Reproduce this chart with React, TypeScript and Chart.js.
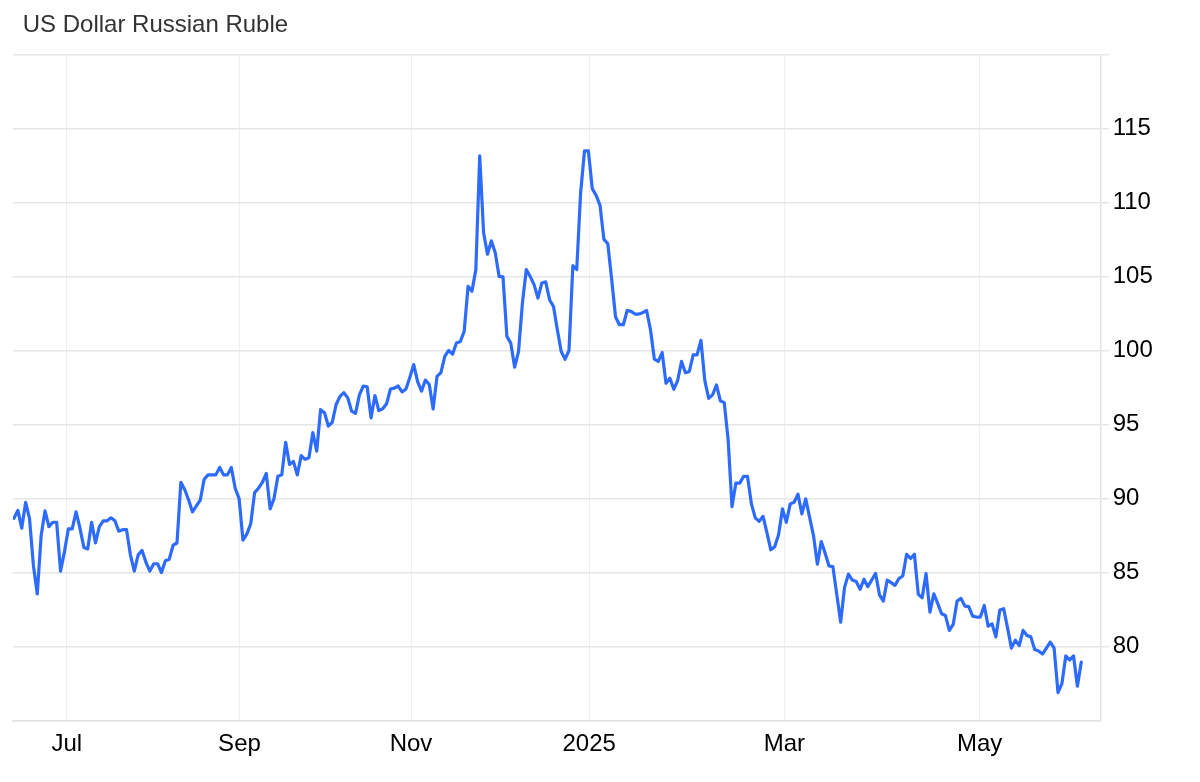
import React, { useEffect, useRef } from "react";
import { Chart, registerables } from "chart.js";

Chart.register(...registerables);

const TITLE = "US Dollar Russian Ruble";

// USD/RUB daily quotes, mid-Jun 2024 to end of May 2025 (one entry per trading point)
const rubValues: number[] = [
  88.67, 89.2, 88.0, 89.74, 88.67, 85.5, 83.56, 87.5, 89.17, 88.1,
  88.4, 88.4, 85.1, 86.4, 87.95, 87.95, 89.1, 88.0, 86.7, 86.6,
  88.4, 87.0, 88.1, 88.5, 88.5, 88.7, 88.5, 87.8, 87.9, 87.9,
  86.2, 85.1, 86.2, 86.5, 85.7, 85.1, 85.6, 85.6, 85.0, 85.8,
  85.9, 86.85, 87.0, 91.1, 90.6, 89.9, 89.1, 89.5, 89.9, 91.3,
  91.6, 91.6, 91.6, 92.1, 91.6, 91.6, 92.1, 90.7, 90.0, 87.2,
  87.6, 88.3, 90.4, 90.7, 91.1, 91.7, 89.3, 90.0, 91.5, 91.6,
  93.8, 92.3, 92.5, 91.6, 92.9, 92.65, 92.75, 94.46, 93.2, 96.0,
  95.8, 94.9, 95.15, 96.35, 96.9, 97.15, 96.8, 95.9, 95.75, 97.0,
  97.6, 97.55, 95.45, 96.96, 95.94, 96.06, 96.4, 97.4, 97.46, 97.6,
  97.2, 97.4, 98.2, 99.05, 97.9, 97.25, 98.0, 97.7, 96.05, 98.25,
  98.5, 99.6, 100.0, 99.75, 100.5, 100.6, 101.3, 104.33, 104.0, 105.46,
  113.14, 107.95, 106.5, 107.4, 106.6, 105.0, 104.97, 100.95, 100.5, 98.87,
  99.93, 103.2, 105.46, 105.0, 104.45, 103.54, 104.56, 104.63, 103.43, 102.98,
  101.4, 99.93, 99.41, 100.0, 105.73, 105.46, 110.65, 113.48, 113.48, 110.93,
  110.47, 109.8, 107.5, 107.22, 104.8, 102.26, 101.74, 101.74, 102.7, 102.64,
  102.46, 102.46, 102.55, 102.7, 101.4, 99.41, 99.26, 99.86, 97.79, 98.13,
  97.38, 97.97, 99.26, 98.5, 98.58, 99.7, 99.7, 100.68, 97.97, 96.77,
  97.0, 97.67, 96.6, 96.48, 94.0, 89.46, 91.04, 91.04, 91.5, 91.5,
  89.64, 88.7, 88.46, 88.8, 87.7, 86.54, 86.74, 87.56, 89.3, 88.4,
  89.64, 89.75, 90.3, 88.96, 89.98, 88.73, 87.5, 85.57, 87.1, 86.3,
  85.45, 85.4, 83.53, 81.65, 84.0, 84.9, 84.5, 84.4, 83.87, 84.55,
  84.05, 84.5, 84.95, 83.5, 83.08, 84.5, 84.32, 84.14, 84.6, 84.77,
  86.24, 85.95, 86.24, 83.53, 83.3, 84.93, 82.33, 83.57, 82.92, 82.22,
  82.1, 81.1, 81.5, 83.08, 83.26, 82.74, 82.7, 82.06, 82.0, 82.0,
  82.78, 81.38, 81.54, 80.66, 82.47, 82.56, 81.27, 79.9, 80.43, 80.07,
  81.1, 80.75, 80.66, 79.8, 79.7, 79.5, 79.9, 80.3, 79.9, 76.9,
  77.5, 79.37, 79.1, 79.37, 77.33, 78.96,
];

// month boundaries, expressed as positions along the series
const tickLabels: string[] = ["Jul", "Sep", "Nov", "2025", "Mar", "May"];
const tickPositions: number[] = [13.6, 58.1, 102.3, 148.2, 198.5, 248.8];

const yTicks: number[] = [75, 80, 85, 90, 95, 100, 105, 110, 115, 120];

const FONT = "'Liberation Sans', Arial, Helvetica, sans-serif";

export default function App() {
  const canvasRef = useRef<HTMLCanvasElement | null>(null);

  useEffect(() => {
    document.body.style.margin = "0";
    const canvas = canvasRef.current;
    if (!canvas) return;

    const titlePlugin = {
      id: "leftTitle",
      afterDraw(chart: any) {
        const ctx = chart.ctx;
        ctx.save();
        ctx.font = `24px ${FONT}`;
        ctx.fillStyle = "#333333";
        ctx.textBaseline = "alphabetic";
        ctx.textAlign = "left";
        ctx.fillText(TITLE, 22.7, 32.3);
        ctx.restore();
      },
    };

    const chart = new Chart(canvas, {
      type: "line",
      data: {
        labels: rubValues.map((_, i) => i),
        datasets: [
          {
            data: rubValues.map((v, i) => ({ x: i, y: v })),
            borderColor: "#2d6bff",
            borderWidth: 3.2,
            pointRadius: 0,
            pointHoverRadius: 0,
            tension: 0,
            fill: false,
            borderJoinStyle: "round",
            borderCapStyle: "round",
          },
        ],
      },
      options: {
        animation: false,
        responsive: true,
        maintainAspectRatio: false,
        layout: { padding: { top: 54.3, left: 12.7, right: 0, bottom: 0 } },
        plugins: {
          legend: { display: false },
          title: { display: false },
          tooltip: { enabled: false },
        },
        scales: {
          x: {
            type: "linear",
            min: -0.33,
            max: 280,
            afterBuildTicks: (axis: any) => {
              axis.ticks = tickPositions.map((v) => ({ value: v }));
            },
            afterFit: (scale: any) => {
              scale.height = 61.3;
            },
            ticks: {
              autoSkip: false,
              maxRotation: 0,
              minRotation: 0,
              padding: 9,
              color: "#000000",
              font: { family: FONT, size: 24 },
              callback: (value: any) => {
                const idx = tickPositions.indexOf(Number(value));
                return idx >= 0 ? tickLabels[idx] : "";
              },
            },
            grid: {
              color: "#eaeff5",
              lineWidth: 1,
              drawTicks: false,
            },
            border: { display: true, color: "#e3e3e3", width: 1.5 },
          },
          y: {
            type: "linear",
            position: "right",
            min: 75,
            max: 120,
            afterBuildTicks: (axis: any) => {
              axis.ticks = yTicks.map((v) => ({ value: v }));
            },
            afterFit: (scale: any) => {
              scale.width = 99.3;
            },
            ticks: {
              padding: 4,
              color: "#000000",
              font: { family: FONT, size: 24 },
              callback: (value: any) =>
                value === 75 || value === 120 ? "" : String(value),
            },
            grid: {
              color: "#e6e6e6",
              lineWidth: 1.5,
              drawTicks: true,
              tickLength: 8,
              tickColor: (ctx: any) =>
                ctx.tick && ctx.tick.value === 75 ? "rgba(0,0,0,0)" : "#e6e6e6",
            },
            border: { display: true, color: "#e3e3e3", width: 1.5 },
          },
        },
      },
      plugins: [titlePlugin],
    });

    return () => {
      chart.destroy();
    };
  }, []);

  return (
    <div style={{ position: "relative", width: "1200px", height: "782px" }}>
      <canvas ref={canvasRef} />
    </div>
  );
}
